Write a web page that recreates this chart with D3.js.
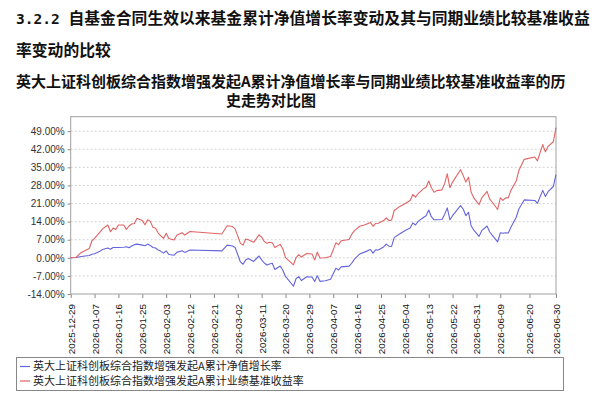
<!DOCTYPE html>
<html>
<head>
<meta charset="utf-8">
<script src="https://cdn.jsdelivr.net/npm/d3@7"></script>
<style>
  body { margin: 0; background: #fff; }
  svg { display: block; }
</style>
</head>
<body>
<div id="chart"></div>
<script>
// trading dates (rows of 10)
const dates = [
  '2025-12-29','2025-12-31','2026-01-02','2026-01-05','2026-01-06','2026-01-07','2026-01-09','2026-01-10','2026-01-12','2026-01-13',
  '2026-01-14','2026-01-15','2026-01-16','2026-01-18','2026-01-19','2026-01-20','2026-01-21','2026-01-22','2026-01-23','2026-01-25',
  '2026-01-26','2026-01-27','2026-01-28','2026-01-29','2026-01-30','2026-01-31','2026-02-01','2026-02-02','2026-02-03','2026-02-04',
  '2026-02-06','2026-02-07','2026-02-09','2026-02-10','2026-02-12','2026-02-24','2026-02-26','2026-02-28','2026-03-01','2026-03-03',
  '2026-03-04','2026-03-05','2026-03-06','2026-03-08','2026-03-10','2026-03-11','2026-03-12','2026-03-13','2026-03-14','2026-03-15',
  '2026-03-16','2026-03-18','2026-03-19','2026-03-20','2026-03-23','2026-03-24','2026-03-25','2026-03-26','2026-03-28','2026-03-30',
  '2026-03-31','2026-04-01','2026-04-02','2026-04-04','2026-04-06','2026-04-08','2026-04-09','2026-04-10','2026-04-13','2026-04-14',
  '2026-04-15','2026-04-17','2026-04-19','2026-04-21','2026-04-22','2026-04-23','2026-04-24','2026-04-26','2026-04-27','2026-04-28',
  '2026-04-29','2026-04-30','2026-05-02','2026-05-04','2026-05-06','2026-05-07','2026-05-08','2026-05-09','2026-05-11','2026-05-12',
  '2026-05-13','2026-05-14','2026-05-15','2026-05-16','2026-05-18','2026-05-19','2026-05-20','2026-05-21','2026-05-22','2026-05-25',
  '2026-05-26','2026-05-27','2026-05-28','2026-05-29','2026-05-30','2026-06-01','2026-06-02','2026-06-04','2026-06-05','2026-06-06',
  '2026-06-08','2026-06-09','2026-06-10','2026-06-11','2026-06-12','2026-06-13','2026-06-15','2026-06-16','2026-06-18','2026-06-22',
  '2026-06-23','2026-06-25','2026-06-26','2026-06-27','2026-06-29','2026-06-30'
];

// 累计净值增长率 (%)
const navGrowth = [
  0, 0.1, 0.5, 0.9, 1.4, 1.6, 2.5, 3.2, 3.8, 3.3,
  4.0, 4.0, 4.0, 4.1, 4.3, 3.9, 4.6, 5.1, 5.3, 4.9,
  4.7, 5.3, 4.8, 4.0, 3.8, 3.0, 2.5, 1.8, 2.7, 1.3,
  1.0, 2.1, 2.7, 2.1, 3.0, 2.7, 4.9, 4.6, 4.0, -1.6,
  -2.5, -0.8, -0.3, -1.4, 0.7, -0.8, -2.0, -2.8, -2.4, -2.1,
  -4.5, -3.2, -4.8, -7.2, -11.0, -8.0, -7.3, -8.8, -7.3, -7.4,
  -9.2, -6.9, -9.1, -8.9, -8.3, -4.0, -4.7, -3.5, -3.2, -2.0,
  -0.5, 1.5, 2.3, 3.2, 1.8, 3.1, 3.0, 4.2, 5.3, 4.5,
  4.4, 7.8, 9.2, 10.5, 11.5, 13.5, 12.7, 14.1, 15.6, 16.3,
  18.5, 15.9, 14.7, 14.7, 14.8, 16.8, 19.3, 14.7, 16.3, 20.2,
  18.9, 16.3, 17.6, 12.4, 10.7, 8.3, 10.5, 12.3, 10.0, 8.7,
  6.2, 9.7, 9.5, 9.7, 9.6, 11.8, 15.7, 18.9, 22.4, 22.2,
  21.1, 26.1, 23.7, 25.6, 27.6, 32.2
];

// 业绩比较基准收益率 (%)
const benchmark = [
  0, 0.2, 2.1, 3.6, 6.6, 7.5, 9.9, 11.2, 12.7, 10.1,
  11.5, 11.0, 12.7, 12.7, 11.0, 12.3, 13.1, 13.3, 15.3, 14.4,
  12.8, 14.7, 14.1, 11.8, 11.4, 9.6, 8.5, 7.5, 9.5, 7.5,
  6.9, 8.7, 9.7, 8.8, 10.2, 9.2, 12.4, 12.1, 11.2, 5.6,
  4.9, 7.3, 7.0, 6.0, 8.9, 8.0, 6.3, 5.6, 6.0, 5.8,
  4.0, 5.2, 3.4, 0.1, -2.7, 0.1, 1.2, 0.3, 1.7, 1.5,
  -0.8, 2.2, -0.1, 0.0, 0.5, 5.8, 5.1, 6.6, 7.1, 9.2,
  10.5, 12.2, 12.8, 13.7, 12.2, 13.3, 13.4, 14.4, 15.4, 14.4,
  14.6, 18.3, 19.8, 20.9, 22.2, 24.5, 23.5, 24.8, 26.7, 27.3,
  29.7, 27.1, 25.4, 26.0, 26.3, 28.7, 32.5, 27.1, 29.3, 34.1,
  31.9, 29.3, 31.2, 25.4, 23.2, 20.6, 23.2, 25.7, 22.7, 21.5,
  18.7, 23.2, 22.2, 23.2, 23.2, 26.1, 29.7, 33.8, 38.1, 39.0,
  37.5, 43.8, 41.0, 43.1, 44.9, 50.4
];

const xTickLabels = [
  '2025-12-29','2026-01-07','2026-01-16','2026-01-25','2026-02-03','2026-02-12','2026-02-21',
  '2026-03-02','2026-03-11','2026-03-20','2026-03-29','2026-04-07','2026-04-16','2026-04-25',
  '2026-05-04','2026-05-13','2026-05-22','2026-05-31','2026-06-09','2026-06-20','2026-06-30'
];
const yTicks = [-14, -7, 0, 7, 14, 21, 28, 35, 42, 49];
const yMax = 54.6;

const seriesNames = [
  '英大上证科创板综合指数增强发起A累计净值增长率',
  '英大上证科创板综合指数增强发起A累计业绩基准收益率'
];
const seriesColors = ['#6464dc', '#e06464'];

const width = 597;
const height = 410;
const plot = { left: 70.7, right: 556, top: 116.7, bottom: 294 };
const cjk = '"Noto Sans CJK SC", "Noto Sans", sans-serif';
const latin = '"Liberation Sans", Arial, sans-serif';

const parseDate = d3.timeParse('%Y-%m-%d');

const svg = d3.select('#chart').append('svg')
  .attr('width', width)
  .attr('height', height);

// section heading
const heading = svg.append('text')
  .attr('x', 16)
  .attr('y', 24)
  .attr('font-family', cjk)
  .attr('font-size', 15.8)
  .attr('font-weight', 'bold')
  .attr('fill', '#111');
heading.append('tspan')
  .attr('font-family', '"DejaVu Sans Mono", monospace')
  .attr('font-size', 14.5)
  .text('3.2.2 ');
heading.append('tspan').text('自基金合同生效以来基金累计净值增长率变动及其与同期业绩比较基准收益');

svg.append('text')
  .attr('x', 16)
  .attr('y', 56)
  .attr('font-family', cjk)
  .attr('font-size', 15.8)
  .attr('font-weight', 'bold')
  .attr('fill', '#111')
  .text('率变动的比较');

// chart title
svg.append('text')
  .attr('x', 16)
  .attr('y', 87)
  .attr('font-family', cjk)
  .attr('font-size', 15)
  .attr('font-weight', 'bold')
  .attr('fill', '#111')
  .text('英大上证科创板综合指数增强发起A累计净值增长率与同期业绩比较基准收益率的历');

svg.append('text')
  .attr('x', 271)
  .attr('y', 106)
  .attr('text-anchor', 'middle')
  .attr('font-family', cjk)
  .attr('font-size', 15)
  .attr('font-weight', 'bold')
  .attr('fill', '#111')
  .text('史走势对比图');

const x = d3.scaleTime()
  .domain([parseDate(xTickLabels[0]), parseDate(xTickLabels[xTickLabels.length - 1])])
  .range([plot.left, plot.right]);

const y = d3.scaleLinear()
  .domain([yTicks[0], yMax])
  .range([plot.bottom, plot.top]);

// grid
svg.append('g')
  .selectAll('line')
  .data(yTicks.slice(1))
  .join('line')
  .attr('x1', plot.left)
  .attr('x2', plot.right)
  .attr('y1', d => y(d))
  .attr('y2', d => y(d))
  .attr('stroke', '#c8c8c8')
  .attr('stroke-width', 0.8)
  .attr('stroke-dasharray', '2,2');

// y axis
const yAxis = svg.append('g')
  .attr('transform', `translate(${plot.left},0)`)
  .call(d3.axisLeft(y).tickValues(yTicks).tickSize(3).tickPadding(3).tickFormat(d => `${d.toFixed(2)}%`));
yAxis.select('.domain').remove();
yAxis.selectAll('line').attr('stroke', '#888');
yAxis.selectAll('text')
  .attr('font-family', latin)
  .attr('font-size', 10)
  .attr('fill', '#333');

// x axis
const xAxis = svg.append('g')
  .attr('transform', `translate(0,${plot.bottom})`)
  .call(d3.axisBottom(x).tickValues(xTickLabels.map(parseDate)).tickSize(4).tickFormat(d3.timeFormat('%Y-%m-%d')));
xAxis.select('.domain').remove();
xAxis.selectAll('line').attr('stroke', '#888');
xAxis.selectAll('text')
  .attr('font-family', latin)
  .attr('font-size', 9.8)
  .attr('fill', '#111')
  .attr('text-anchor', 'end')
  .attr('transform', 'rotate(-90)')
  .attr('x', -10)
  .attr('y', 0)
  .attr('dy', '0.35em');

// frame
svg.append('rect')
  .attr('x', plot.left)
  .attr('y', plot.top)
  .attr('width', plot.right - plot.left)
  .attr('height', plot.bottom - plot.top)
  .attr('fill', 'none')
  .attr('stroke', '#a0a0a0')
  .attr('stroke-width', 1);

// lines
const series = [navGrowth, benchmark];
const line = d3.line()
  .x((d, i) => x(parseDate(dates[i])))
  .y(d => y(d));

svg.append('g')
  .selectAll('path')
  .data(series)
  .join('path')
  .attr('fill', 'none')
  .attr('stroke', (d, i) => seriesColors[i])
  .attr('stroke-width', 1.1)
  .attr('stroke-linejoin', 'round')
  .attr('d', d => line(d));

// legend
const legend = svg.append('g');
legend.append('rect')
  .attr('x', 16.5)
  .attr('y', 357.5)
  .attr('width', 547)
  .attr('height', 33)
  .attr('fill', '#fff')
  .attr('stroke', '#888')
  .attr('stroke-width', 1);

const legendItem = legend.selectAll('g.item')
  .data(seriesNames)
  .join('g')
  .attr('class', 'item')
  .attr('transform', (d, i) => `translate(20,${366.5 + i * 14.5})`);

legendItem.append('line')
  .attr('x1', 0)
  .attr('x2', 10)
  .attr('y1', 0)
  .attr('y2', 0)
  .attr('stroke', (d, i) => seriesColors[i])
  .attr('stroke-width', 1.2);

legendItem.append('text')
  .attr('x', 13)
  .attr('y', 0)
  .attr('dy', '0.36em')
  .attr('font-family', cjk)
  .attr('font-size', 11)
  .attr('fill', '#222')
  .text(d => d);
</script>
</body>
</html>
